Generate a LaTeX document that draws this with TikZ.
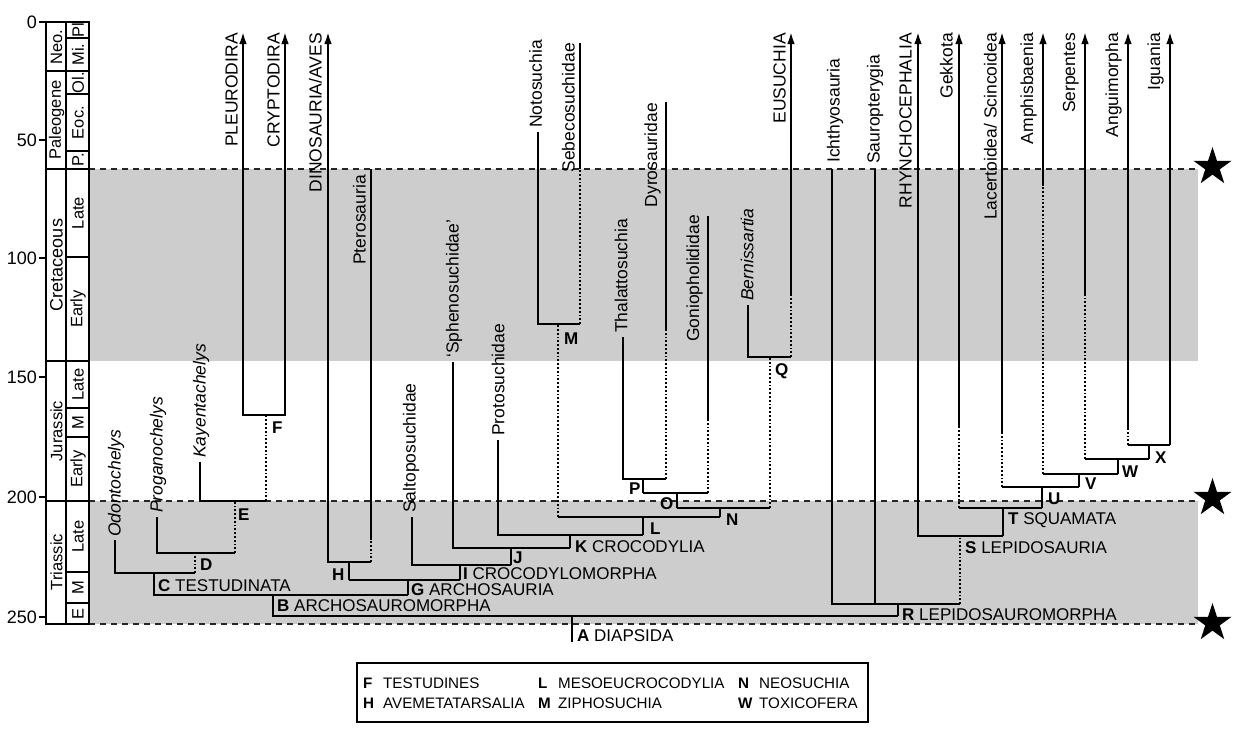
\documentclass[tikz,border=0pt]{standalone}
\usepackage{fontspec}
\setmainfont{Liberation Sans}
\usetikzlibrary{arrows.meta,shapes.geometric}
\definecolor{band}{RGB}{205,205,205}
\begin{document}
\begin{tikzpicture}[x=1pt,y=-1pt,
  tl/.style={line width=2.6pt, line join=miter},
  dt/.style={line width=2.6pt, dash pattern=on 1.8pt off 2pt},
  arr/.style={tl,-{Latex[length=13pt,width=7.5pt]}},
  tx/.style={rotate=90, inner sep=0pt, font=\fontsize{17.5}{18}\selectfont},
  lab/.style={inner sep=0pt, anchor=base west, font=\fontsize{17}{18}\selectfont},
  dsh/.style={line width=1.2pt, dash pattern=on 6pt off 5pt, black!85},
  col/.style={line width=1.2pt},
  ctx/.style={rotate=90, inner sep=0pt, font=\fontsize{16.5}{17}\selectfont},
  axn/.style={inner sep=0pt, anchor=base east, font=\fontsize{18}{18}\selectfont},
  leg/.style={inner sep=0pt, anchor=base west, font=\fontsize{15.2}{16}\selectfont},
  starn/.style={star, star points=5, star point ratio=2.618, fill=black, minimum size=40pt, inner sep=0pt}
]
\fill[white] (0,0) rectangle (1240,731);
\useasboundingbox (0,0) rectangle (1240,731);
% bands
\fill[band] (89,169) rectangle (1198,361);
\fill[band] (89,501) rectangle (1198,624);
\foreach \yy in {169,501,624} \draw[dsh] (89,\yy) -- (1198,\yy);
\node[starn] (st1) at (1212.5,167) {};
\node[starn] (st2) at (1212.5,498) {};
\node[starn] (st3) at (1212.5,623) {};
% time scale
\draw[col] (46,22) rectangle (89,624);
\draw[col] (66,22) -- (66,624);
\foreach \yy in {71,169,361,501} \draw[col] (46,\yy) -- (89,\yy);
\foreach \yy in {38,94,151,257,408,437,572,603} \draw[col] (66,\yy) -- (89,\yy);
\foreach \yy/\t in {22/0,140/50,258/100,377/150,497/200,617/250} {
  \draw[col] (39,\yy) -- (46,\yy);
  \node[axn] (ax\t) at (37,\yy+6.5) {\t};
}
\node[ctx] (pNeo) at (56.5,47) {Neo.};
\node[ctx] (pPal) at (56.5,120) {Paleogene};
\node[ctx,font=\fontsize{18}{18}\selectfont] (pCre) at (56.5,265) {Cretaceous};
\node[ctx] (pJur) at (56.5,431) {Jurassic};
\node[ctx] (pTri) at (56.5,562) {Triassic};
\node[ctx] (ePl) at (78,30) {Pl};
\node[ctx] (eMi) at (78,54.5) {Mi.};
\node[ctx] (eOl) at (78,82.5) {Ol.};
\node[ctx] (eEo) at (78,122.5) {Eoc.};
\node[ctx] (eP) at (78,160) {P.};
\node[ctx] (eKL) at (78,213) {Late};
\node[ctx] (eKE) at (78,309) {Early};
\node[ctx] (eJL) at (78,384.5) {Late};
\node[ctx] (eJM) at (78,422.5) {M};
\node[ctx] (eJE) at (78,469) {Early};
\node[ctx] (eTL) at (78,536.5) {Late};
\node[ctx] (eTM) at (78,587.5) {M};
\node[ctx] (eTE) at (78,613.5) {E};
% ---------------- tree: turtles
\draw[tl] (115,540) |- (195,573);
\draw[dt] (195,573) -- (195,553);
\draw[tl] (157,517) |- (235,553);
\draw[dt] (235,553) -- (235,501);
\draw[tl] (200,462) |- (266,501);
\draw[dt] (266,501) -- (266,415);
\draw[tl,{Latex[length=13pt,width=7.5pt]}-{Latex[length=13pt,width=7.5pt]}] (243,31) |- (285,415) -- (285,31);
\draw[tl] (154,573) -- (154,595) -- (408,595);
% archosaurs
\draw[tl,{Latex[length=13pt,width=7.5pt]}-] (328,31) |- (371,562);
\draw[dt] (371,562) -- (371,539);
\draw[tl] (371,539) -- (371,169);
\draw[tl] (349,562) -- (349,580);
\draw[tl] (349,580) -- (460,580);
\draw[tl] (460,580) -- (460,565);
\draw[tl] (408,580) -- (408,595);
\draw[tl] (412,517) |- (511,565);
\draw[tl] (511,565) -- (511,548);
\draw[tl] (453,362) |- (570,548);
\draw[tl] (570,548) -- (570,535);
\draw[tl] (498,440) |- (643,535);
\draw[tl] (643,535) -- (643,517);
\draw[tl] (558,517) -- (720,517);
\draw[dt] (558,517) -- (558,324);
\draw[tl] (538,132) |- (580,324);
\draw[dt] (580,324) -- (580,169);
\draw[tl] (580,169) -- (580,43);
\draw[tl] (720,517) -- (720,508);
\draw[tl] (677,508) -- (770,508);
\draw[dt] (770,508) -- (770,357);
\draw[tl] (748,305) |- (791,357);
\draw[dt] (791,357) -- (791,295);
\draw[arr] (791,295) -- (791,31);
\draw[tl] (677,508) -- (677,493);
\draw[tl] (643,493) -- (708,493);
\draw[dt] (708,493) -- (708,420);
\draw[tl] (708,420) -- (708,216);
\draw[tl] (643,493) -- (643,479);
\draw[tl] (623,337) |- (666,479);
\draw[dt] (666,479) -- (666,330);
\draw[tl] (666,330) -- (666,169);
\draw[line width=1.6pt] (666,169) -- (666,102);
% diapsida root
\draw[tl] (273,595) -- (273,616) -- (898,616);
\draw[tl] (572,616) -- (572,642);
\draw[tl] (898,616) -- (898,604);
% lepidosauromorphs
\draw[tl] (832,169) |- (960,604);
\draw[tl] (875,169) -- (875,604);
\draw[dt] (960,604) -- (960,536);
\draw[tl,{Latex[length=13pt,width=7.5pt]}-] (918,31) |- (1003,536);
\draw[tl] (1003,536) -- (1003,508);
\draw[tl] (959,508) -- (1042,508);
\draw[dt] (959,508) -- (959,427);
\draw[arr] (959,427) -- (959,31);
\draw[tl] (1042,508) -- (1042,487);
\draw[tl] (1002,487) -- (1079,487);
\draw[dt] (1002,487) -- (1002,432);
\draw[arr] (1002,432) -- (1002,31);
\draw[tl] (1079,487) -- (1079,474);
\draw[tl] (1043,474) -- (1118,474);
\draw[dt] (1043,474) -- (1043,185);
\draw[arr] (1043,185) -- (1043,31);
\draw[tl] (1118,474) -- (1118,459);
\draw[tl] (1085,459) -- (1149,459);
\draw[dt] (1085,459) -- (1085,295);
\draw[arr] (1085,295) -- (1085,31);
\draw[tl] (1149,459) -- (1149,445);
\draw[tl] (1128,445) -- (1170,445);
\draw[dt] (1128,445) -- (1128,428);
\draw[arr] (1128,428) -- (1128,31);
\draw[arr] (1170,445) -- (1170,31);
% ---------------- taxon labels (left of lines)
\node[tx,anchor=south east] (tPleu) at (238,33) {PLEURODIRA};
\node[tx,anchor=south east] (tCryp) at (280,33) {CRYPTODIRA};
\node[tx,anchor=south east] (tDino) at (322,33) {DINOSAURIA/AVES};
\node[tx,anchor=south east] (tPter) at (366,175) {Pterosauria};
\node[tx,anchor=south east] (tSebe) at (575,43) {Sebecosuchidae};
\node[tx,anchor=south east] (tDyro) at (661,103) {Dyrosauridae};
\node[tx,anchor=south east] (tGoni) at (703,215) {Goniopholididae};
\node[tx,anchor=south east] (tEusu) at (786,33) {EUSUCHIA};
\node[tx,anchor=south east] (tRhyn) at (912,33) {RHYNCHOCEPHALIA};
\node[tx,anchor=south east] (tGekk) at (953,33) {Gekkota};
\node[tx,anchor=south east] (tLace) at (997,33) {Lacertoidea/ Scincoidea};
\node[tx,anchor=south east] (tAmph) at (1037,33) {Amphisbaenia};
\node[tx,anchor=south east] (tSerp) at (1079,33) {Serpentes};
\node[tx,anchor=south east] (tAngu) at (1122,33) {Anguimorpha};
\node[tx,anchor=south east] (tIgua) at (1164,33) {Iguania};
% taxon labels (above line ends)
\node[tx,anchor=west] (tOdon) at (116,537) {\itshape Odontochelys};
\node[tx,anchor=west] (tProg) at (158,513) {\itshape Proganochelys};
\node[tx,anchor=west] (tKaye) at (201,458) {\itshape Kayentachelys};
\node[tx,anchor=west] (tSalt) at (411,513) {Saltoposuchidae};
\node[tx,anchor=west] (tSphe) at (454,358) {‘Sphenosuchidae’};
\node[tx,anchor=west] (tProt) at (498,436) {Protosuchidae};
\node[tx,anchor=west] (tNoto) at (535.5,128) {Notosuchia};
\node[tx,anchor=west] (tThal) at (621,333) {Thalattosuchia};
\node[tx,anchor=west] (tBern) at (747,301) {\itshape Bernissartia};
\node[tx,anchor=west] (tIcht) at (835,163) {Ichthyosauria};
\node[tx,anchor=west] (tSaur) at (875,164) {Sauropterygia};
% ---------------- node labels
\node[lab] (nA) at (577,641) {\textbf{A} DIAPSIDA};
\node[lab] (nB) at (277,611) {\textbf{B} ARCHOSAUROMORPHA};
\node[lab] (nC) at (158,591) {\textbf{C} TESTUDINATA};
\node[lab] (nD) at (200,570) {\textbf{D}};
\node[lab] (nE) at (238,520) {\textbf{E}};
\node[lab] (nF) at (272,433) {\textbf{F}};
\node[lab] (nG) at (411,595) {\textbf{G} ARCHOSAURIA};
\node[lab] (nH) at (332,580) {\textbf{H}};
\node[lab] (nI) at (463,579) {\textbf{I} CROCODYLOMORPHA};
\node[lab] (nJ) at (513,563) {\textbf{J}};
\node[lab] (nK) at (575,552) {\textbf{K} CROCODYLIA};
\node[lab] (nL) at (650,534) {\textbf{L}};
\node[lab] (nM) at (564,344) {\textbf{M}};
\node[lab] (nN) at (726,525) {\textbf{N}};
\node[lab] (nO) at (660,509) {\textbf{O}};
\node[lab] (nP) at (629,494) {\textbf{P}};
\node[lab] (nQ) at (775,375) {\textbf{Q}};
\node[lab] (nR) at (902,620) {\textbf{R} LEPIDOSAUROMORPHA};
\node[lab] (nS) at (965,553) {\textbf{S} LEPIDOSAURIA};
\node[lab] (nT) at (1008,524) {\textbf{T} SQUAMATA};
\node[lab] (nU) at (1048,504) {\textbf{U}};
\node[lab] (nV) at (1085,489) {\textbf{V}};
\node[lab] (nW) at (1122,477) {\textbf{W}};
\node[lab] (nX) at (1155,463) {\textbf{X}};
% ---------------- legend
\draw[line width=1.2pt] (357,663) rectangle (868,722);
\node[leg] (lF) at (363,688) {\textbf{F}};
\node[leg] (lF2) at (383,688) {TESTUDINES};
\node[leg] (lL) at (538,688) {\textbf{L}};
\node[leg] (lL2) at (558,688) {MESOEUCROCODYLIA};
\node[leg] (lN) at (738,688) {\textbf{N}};
\node[leg] (lN2) at (759,688) {NEOSUCHIA};
\node[leg] (lH) at (363,708) {\textbf{H}};
\node[leg] (lH2) at (383,708) {AVEMETATARSALIA};
\node[leg] (lM) at (538,708) {\textbf{M}};
\node[leg] (lM2) at (558,708) {ZIPHOSUCHIA};
\node[leg] (lW) at (738,708) {\textbf{W}};
\node[leg] (lW2) at (759,708) {TOXICOFERA};
\end{tikzpicture}
\end{document}
